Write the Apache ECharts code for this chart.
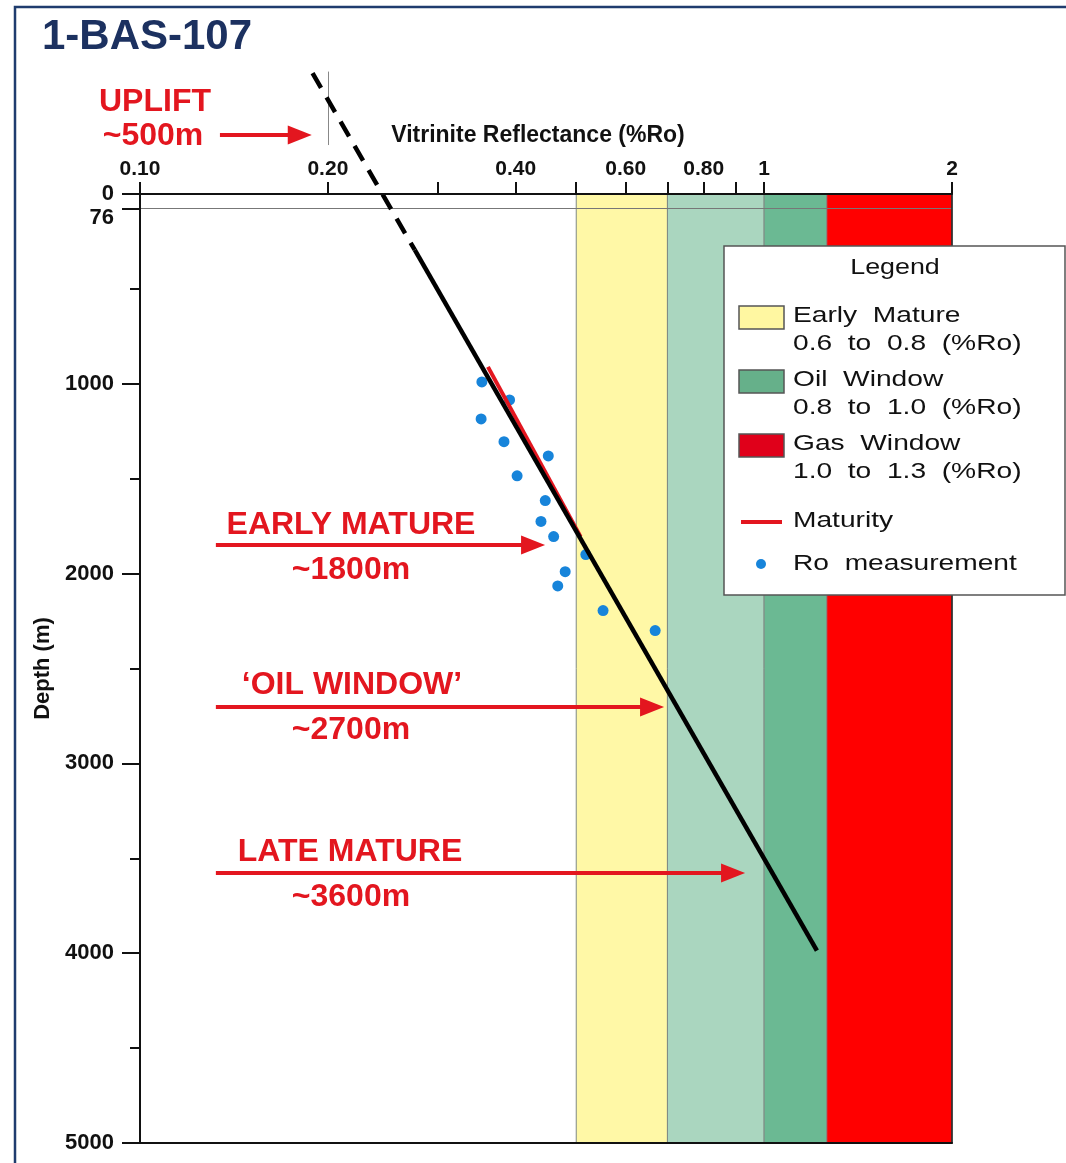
<!DOCTYPE html>
<html>
<head>
<meta charset="utf-8">
<title>1-BAS-107 Vitrinite Reflectance</title>
<script src="https://cdn.jsdelivr.net/npm/echarts@6/dist/echarts.min.js"></script>
<style>
  html, body { margin: 0; padding: 0; background: #ffffff; }
  #chart { width: 1066px; height: 1163px; }
</style>
</head>
<body>
<div id="chart"></div>
<script>
// ---- axis ticks and labels ----
const roTickValues = [0.1, 0.2, 0.3, 0.4, 0.5, 0.6, 0.7, 0.8, 0.9, 1, 2];
const roLabelValues = [0.1, 0.2, 0.4, 0.6, 0.8, 1, 2];
const depthLabelValues = [0, 76, 1000, 2000, 3000, 4000, 5000];
const depthMinorValues = [500, 1500, 2500, 3500, 4500];

// ---- measured vitrinite reflectance samples ----
const sampleRo = [0.353, 0.391, 0.352, 0.383, 0.451, 0.402, 0.446, 0.439, 0.460, 0.518, 0.480, 0.467, 0.552, 0.669];
const sampleDepth = [990, 1085, 1185, 1305, 1380, 1485, 1615, 1725, 1805, 1900, 1990, 2065, 2195, 2300];

// ---- maturity zones (%Ro bounds) ----
const zoneFrom = [0.5, 0.7, 1.0, 1.26];
const zoneTo = [0.7, 1.0, 1.26, 2.0];

// ---- Ro trend: dashed part projected above the present surface, solid below ----
const trendRo = [0.189, 0.2756, 1.215];
const trendDepth = [-637, 295, 3986];

// ---- maturity trend fitted to the samples ----
const maturityRo = [0.361, 0.508];
const maturityDepth = [911, 1805];

// ---- eroded section marker at 0.20 %Ro ----
const upliftRo = 0.2;
const upliftDepth = [-645, -258];

// ---- horizontal reference depth ----
const refDepth = 76;

// ---- annotation arrows ----
const arrowDepth = [-311, 1849, 2703, 3577];
const arrowFromRo = [0.1343, 0.1323, 0.1323, 0.1323];
const arrowToRo = [0.1803, 0.4264, 0.6614, 0.8918];
const arrowTitles = ['UPLIFT', 'EARLY MATURE', '\u2018OIL WINDOW\u2019', 'LATE MATURE'];
const arrowValues = ['~500m', '~1800m', '~2700m', '~3600m'];

// ---- legend texts ----
const legendTitle = 'Legend';
const legendNames = ['Early  Mature', 'Oil  Window', 'Gas  Window', 'Maturity', 'Ro  measurement'];
const legendRanges = ['0.6  to  0.8  (%Ro)', '0.8  to  1.0  (%Ro)', '1.0  to  1.3  (%Ro)'];

// ---- styling ----
const FONT = '"Liberation Sans", Arial, sans-serif';
const INK = '#111111';
const RED = '#E3161F';
const BLUE = '#1784DA';
const NAVY = '#1C3160';
const zoneColors = ['#FFF8A6', '#AAD6BF', '#6BB993', '#FF0000'];
const legendSwatch = ['#FFF7A1', '#66B08A', '#E0001A'];

const pairs = (xs, ys) => xs.map((x, i) => [x, ys[i]]);

const chart = echarts.init(document.getElementById('chart'), null, { renderer: 'canvas' });

// Legend panel
function legendGraphic() {
  const els = [];
  els.push({ type: 'rect', shape: { x: 724, y: 246, width: 341, height: 349 },
    style: { fill: '#ffffff', stroke: '#555555', lineWidth: 1.5 }, z: 100 });
  els.push({ type: 'text', x: 895, y: 268, scaleX: 1.22, z: 101,
    style: { text: legendTitle, font: '22px ' + FONT, fill: INK, align: 'center', verticalAlign: 'middle' } });
  const rowY = [317, 381, 445];
  for (let i = 0; i < 3; i++) {
    els.push({ type: 'rect', shape: { x: 739, y: rowY[i] - 11, width: 45, height: 23 },
      style: { fill: legendSwatch[i], stroke: '#555555', lineWidth: 1.5 }, z: 101 });
    els.push({ type: 'text', x: 793, y: rowY[i] - 1, scaleX: 1.28, z: 101,
      style: { text: legendNames[i], font: '22px ' + FONT, fill: INK, align: 'left', verticalAlign: 'middle' } });
    els.push({ type: 'text', x: 793, y: rowY[i] + 27, scaleX: 1.28, z: 101,
      style: { text: legendRanges[i], font: '22px ' + FONT, fill: INK, align: 'left', verticalAlign: 'middle' } });
  }
  els.push({ type: 'line', shape: { x1: 741, y1: 522, x2: 782, y2: 522 },
    style: { stroke: RED, lineWidth: 4 }, z: 101 });
  els.push({ type: 'text', x: 793, y: 521, scaleX: 1.28, z: 101,
    style: { text: legendNames[3], font: '22px ' + FONT, fill: INK, align: 'left', verticalAlign: 'middle' } });
  els.push({ type: 'circle', shape: { cx: 761, cy: 564, r: 5 }, style: { fill: BLUE }, z: 101 });
  els.push({ type: 'text', x: 793, y: 564, scaleX: 1.28, z: 101,
    style: { text: legendNames[4], font: '22px ' + FONT, fill: INK, align: 'left', verticalAlign: 'middle' } });
  return els;
}

// Red annotation captions
function captionGraphic() {
  const els = [];
  const titlePos = [[155, 102], [351, 525], [352, 685], [350, 852]];
  const valuePos = [[153, 136], [351, 570], [351, 730], [351, 897]];
  for (let i = 0; i < arrowTitles.length; i++) {
    els.push({ type: 'text', x: titlePos[i][0], y: titlePos[i][1], z: 50,
      style: { text: arrowTitles[i], font: 'bold 32px ' + FONT, fill: RED, align: 'center', verticalAlign: 'middle' } });
    els.push({ type: 'text', x: valuePos[i][0], y: valuePos[i][1], z: 50,
      style: { text: arrowValues[i], font: 'bold 32px ' + FONT, fill: RED, align: 'center', verticalAlign: 'middle' } });
  }
  return els;
}

const option = {
  animation: false,
  backgroundColor: '#ffffff',
  grid: { left: 140, right: 114, top: 194, bottom: 20, containLabel: false, outerBoundsMode: 'none' },
  xAxis: [
    {
      type: 'log', logBase: 10, min: 0.1, max: 2, position: 'top', z: 10,
      name: 'Vitrinite Reflectance (%Ro)', nameLocation: 'middle', nameGap: 47,
      nameTextStyle: { fontFamily: FONT, fontWeight: 'bold', fontSize: 23, color: INK, padding: [0, 16, 0, 0] },
      axisLine: { show: true, onZero: false, lineStyle: { color: INK, width: 2 } },
      axisTick: { show: true, inside: false, length: 12, customValues: roTickValues, lineStyle: { color: INK, width: 2 } },
      axisLabel: {
        show: true, customValues: roLabelValues, margin: 14,
        formatter: v => (v < 1 ? Number(v).toFixed(2) : String(Math.round(v))),
        fontFamily: FONT, fontWeight: 'bold', fontSize: 21, color: INK
      },
      splitLine: { show: false }, minorTick: { show: false }, minorSplitLine: { show: false }
    },
    {
      type: 'log', logBase: 10, min: 0.1, max: 2, position: 'bottom', z: 10,
      axisLine: { show: true, onZero: false, lineStyle: { color: INK, width: 2 } },
      axisTick: { show: false }, axisLabel: { show: false }, splitLine: { show: false }
    }
  ],
  yAxis: [
    {
      type: 'value', inverse: true, min: 0, max: 5000, position: 'left', z: 10,
      name: 'Depth (m)', nameLocation: 'middle', nameGap: 82, nameRotate: 90,
      nameTextStyle: { fontFamily: FONT, fontWeight: 'bold', fontSize: 22, color: INK },
      axisLine: { show: true, onZero: false, lineStyle: { color: INK, width: 2 } },
      axisTick: { show: true, inside: false, length: 18, customValues: depthLabelValues, lineStyle: { color: INK, width: 2 } },
      axisLabel: {
        show: true, customValues: depthLabelValues, margin: 26,
        formatter: v => (v === refDepth ? '{low|' + v + '}' : '{n|' + v + '}'),
        rich: {
          n: { fontFamily: FONT, fontWeight: 'bold', fontSize: 22, color: INK },
          low: { fontFamily: FONT, fontWeight: 'bold', fontSize: 22, color: INK, padding: [20, 0, 0, 0] }
        }
      },
      splitLine: { show: false }
    },
    {
      type: 'value', inverse: true, min: 0, max: 5000, position: 'left', z: 10,
      axisLine: { show: false, onZero: false },
      axisTick: { show: true, inside: false, length: 10, customValues: depthMinorValues, lineStyle: { color: INK, width: 2 } },
      axisLabel: { show: false }, splitLine: { show: false }
    },
    {
      type: 'value', inverse: true, min: 0, max: 5000, position: 'right', z: 10,
      axisLine: { show: true, onZero: false, lineStyle: { color: '#222222', width: 1.5 } },
      axisTick: { show: false }, axisLabel: { show: false }, splitLine: { show: false }
    }
  ],
  series: [
    {
      name: 'zones', type: 'line', data: [], z: 1, silent: true,
      markArea: {
        silent: true,
        data: zoneFrom.map((f, i) => [
          { xAxis: f, yAxis: 0, itemStyle: { color: zoneColors[i], borderColor: '#7f8a84', borderWidth: 1 } },
          { xAxis: zoneTo[i], yAxis: 5000 }
        ])
      }
    },
    {
      name: 'reference depth', type: 'lines', coordinateSystem: 'cartesian2d', z: 2, silent: true,
      data: [{ coords: [[0.1, refDepth], [2, refDepth]] }],
      lineStyle: { color: '#777777', width: 1, opacity: 1 }
    },
    {
      name: 'Ro measurement', type: 'scatter', z: 3, symbol: 'circle', symbolSize: 11,
      itemStyle: { color: BLUE, opacity: 1 },
      data: pairs(sampleRo, sampleDepth)
    },
    {
      name: 'Maturity', type: 'line', z: 4, symbol: 'none',
      lineStyle: { color: RED, width: 4 },
      data: pairs(maturityRo, maturityDepth)
    },
    {
      name: 'trend projected', type: 'line', z: 5, symbol: 'none', clip: false,
      lineStyle: { color: '#000000', width: 4.5, type: [17, 11] },
      data: pairs(trendRo.slice(0, 2), trendDepth.slice(0, 2))
    },
    {
      name: 'trend', type: 'line', z: 5, symbol: 'none', clip: false,
      lineStyle: { color: '#000000', width: 4.5 },
      data: pairs(trendRo.slice(1), trendDepth.slice(1))
    },
    {
      name: 'uplift marker', type: 'lines', coordinateSystem: 'cartesian2d', z: 2, clip: false, silent: true,
      data: [{ coords: [[upliftRo, upliftDepth[0]], [upliftRo, upliftDepth[1]]] }],
      lineStyle: { color: '#888888', width: 1, opacity: 1 }
    },
    {
      name: 'arrows', type: 'lines', coordinateSystem: 'cartesian2d', z: 6, clip: false, silent: true,
      symbol: ['none', 'triangle'], symbolSize: [0, [19, 24]],
      lineStyle: { color: RED, width: 4, opacity: 1 },
      data: arrowDepth.map((d, i) => ({ coords: [[arrowFromRo[i], d], [arrowToRo[i], d]] }))
    }
  ],
  graphic: [
    { type: 'rect', shape: { x: 15, y: 7, width: 1100, height: 1200 },
      style: { fill: 'none', stroke: '#1F3C6E', lineWidth: 2.5 }, z: 0, silent: true },
    { type: 'text', x: 42, y: 37, z: 50,
      style: { text: '1-BAS-107', font: 'bold 42px ' + FONT, fill: NAVY, align: 'left', verticalAlign: 'middle' } }
  ].concat(captionGraphic(), legendGraphic())
};

chart.setOption(option);
</script>
</body>
</html>
